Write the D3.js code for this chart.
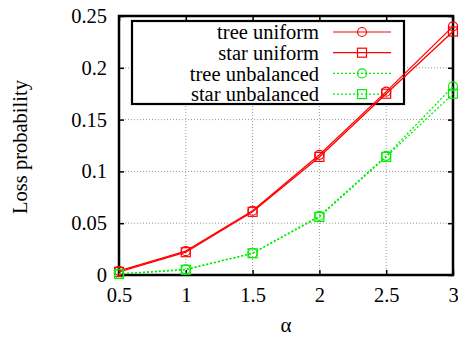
<!DOCTYPE html>
<html>
<head>
<meta charset="utf-8">
<script src="https://cdn.jsdelivr.net/npm/d3@7"></script>
<style>
body{margin:0;background:#fff;}
</style>
</head>
<body>
<script>
var alphas = [0.5, 1, 1.5, 2, 2.5, 3];
var treeUniform = [0.004, 0.023, 0.062, 0.116, 0.177, 0.240];
var starUniform = [0.003, 0.022, 0.061, 0.114, 0.175, 0.235];
var treeUnbalanced = [0.001, 0.0055, 0.021, 0.057, 0.115, 0.182];
var starUnbalanced = [0.001, 0.005, 0.021, 0.056, 0.114, 0.175];
var seriesNames = ["tree uniform", "star uniform", "tree unbalanced", "star unbalanced"];
var xTicks = [0.5, 1, 1.5, 2, 2.5, 3];
var yTicks = [0, 0.05, 0.1, 0.15, 0.2, 0.25];

var width = 458, height = 337;
var font = "'Liberation Serif', 'Times New Roman', serif";
var fs = "20.5px";

var series = [
  {name: seriesNames[0], values: treeUniform, color: "#ff0000", dash: null, marker: "circle"},
  {name: seriesNames[1], values: starUniform, color: "#ff0000", dash: null, marker: "square"},
  {name: seriesNames[2], values: treeUnbalanced, color: "#00ee00", dash: "2,2", marker: "circle"},
  {name: seriesNames[3], values: starUnbalanced, color: "#00ee00", dash: "2,2", marker: "square"}
];

var x = d3.scaleLinear().domain([0.5, 3]).range([119, 453]);
var y = d3.scaleLinear().domain([0, 0.25]).range([275, 16]);

var svg = d3.select("body").append("svg")
  .attr("width", width)
  .attr("height", height);

// grid
svg.append("g").selectAll("line.gx")
  .data(xTicks.slice(1, -1))
  .enter().append("line")
  .attr("x1", d => x(d)).attr("x2", d => x(d))
  .attr("y1", y(0)).attr("y2", y(0.25))
  .attr("stroke", "#999").attr("stroke-width", 1).attr("stroke-dasharray", "1,2");
svg.append("g").selectAll("line.gy")
  .data(yTicks.slice(1, -1))
  .enter().append("line")
  .attr("x1", x(0.5)).attr("x2", x(3))
  .attr("y1", d => y(d)).attr("y2", d => y(d))
  .attr("stroke", "#999").attr("stroke-width", 1).attr("stroke-dasharray", "1,2");

// axes
var xAxis = svg.append("g")
  .attr("transform", "translate(0," + y(0) + ")")
  .call(d3.axisBottom(x).tickValues(xTicks).tickSize(-5).tickPadding(12).tickFormat(d3.format("")));
var yAxis = svg.append("g")
  .attr("transform", "translate(" + x(0.5) + ",0)")
  .call(d3.axisLeft(y).tickValues(yTicks).tickSize(-5).tickPadding(12).tickFormat(d => d === 0 ? "0" : d3.format("")(d)));
var xTop = svg.append("g")
  .attr("transform", "translate(0," + y(0.25) + ")")
  .call(d3.axisTop(x).tickValues(xTicks).tickSize(-5).tickFormat(""));
var yRight = svg.append("g")
  .attr("transform", "translate(" + x(3) + ",0)")
  .call(d3.axisRight(y).tickValues(yTicks).tickSize(-5).tickFormat(""));

[xAxis, yAxis, xTop, yRight].forEach(function (g) {
  g.select(".domain").remove();
  g.selectAll("line").attr("stroke", "#000").attr("stroke-width", 1.5);
  g.selectAll("text")
    .attr("font-family", font)
    .attr("font-size", fs)
    .attr("fill", "#000");
});

// frame
svg.append("rect")
  .attr("x", x(0.5)).attr("y", y(0.25))
  .attr("width", x(3) - x(0.5)).attr("height", y(0) - y(0.25))
  .attr("fill", "none").attr("stroke", "#000").attr("stroke-width", 2.5);

// legend box
var lg = svg.append("g");
lg.append("rect")
  .attr("x", 132).attr("y", 21)
  .attr("width", 272).attr("height", 83)
  .attr("fill", "#fff").attr("stroke", "#000").attr("stroke-width", 2.2);

function drawMarker(g, type, cx, cy, color) {
  if (type === "circle") {
    g.append("circle").attr("cx", cx).attr("cy", cy).attr("r", 4.5)
      .attr("fill", "none").attr("stroke", color).attr("stroke-width", 1.2);
  } else {
    g.append("rect").attr("x", cx - 4.5).attr("y", cy - 4.5).attr("width", 9).attr("height", 9)
      .attr("fill", "none").attr("stroke", color).attr("stroke-width", 1.2);
  }
}

series.forEach(function (s, i) {
  var ly = 32 + i * 20.7;
  lg.append("text")
    .attr("x", 319).attr("y", ly)
    .attr("dy", "0.35em")
    .attr("text-anchor", "end")
    .attr("font-family", font).attr("font-size", fs)
    .text(s.name);
  lg.append("line")
    .attr("x1", 333).attr("x2", 391).attr("y1", ly).attr("y2", ly)
    .attr("stroke", s.color).attr("stroke-width", 1.2)
    .attr("stroke-dasharray", s.dash);
  drawMarker(lg, s.marker, 362, ly, s.color);
});

// data
var line = d3.line().x((d, i) => x(alphas[i])).y(d => y(d));
series.forEach(function (s) {
  svg.append("path")
    .attr("d", line(s.values))
    .attr("fill", "none")
    .attr("stroke", s.color)
    .attr("stroke-width", 1.3)
    .attr("stroke-dasharray", s.dash);
  var mg = svg.append("g");
  s.values.forEach(function (v, i) {
    drawMarker(mg, s.marker, x(alphas[i]), y(v), s.color);
  });
});

// axis titles
svg.append("text")
  .attr("x", 286).attr("y", 332)
  .attr("text-anchor", "middle")
  .attr("font-family", font).attr("font-size", "21px")
  .text("α");
svg.append("text")
  .attr("transform", "translate(27,147) rotate(-90)")
  .attr("text-anchor", "middle")
  .attr("font-family", font).attr("font-size", fs)
  .text("Loss probability");
</script>
</body>
</html>
